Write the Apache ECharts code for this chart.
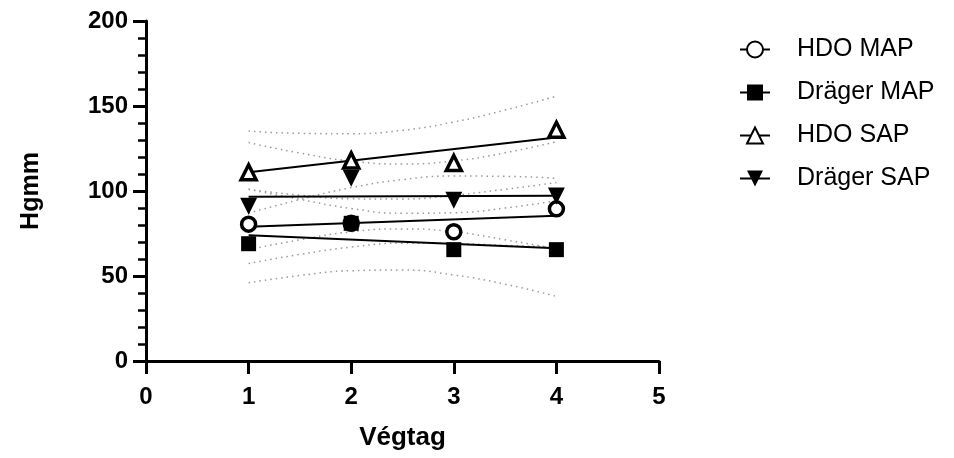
<!DOCTYPE html>
<html>
<head>
<meta charset="utf-8">
<script src="https://cdn.jsdelivr.net/npm/echarts@6/dist/echarts.min.js"></script>
<style>
  html, body { margin: 0; padding: 0; background: #fff; }
  #chart { width: 954px; height: 458px; }
</style>
</head>
<body>
<div id="chart"></div>
<script>
var seriesNames = ['HDO MAP', 'Dräger MAP', 'HDO SAP', 'Dräger SAP'];
var xVals = [1, 2, 3, 4];
var hdoMap = [80.5, 81, 76, 89.5];
var dragerMap = [69, 81, 65.5, 65.5];
var hdoSap = [111, 118, 116.5, 136];
var dragerSap = [91, 107.5, 94.5, 97];

// fitted lines (ends)
var fitX = [1, 4];
var hdoMapFit = [79, 85.5];
var dragerMapFit = [74, 66.3];
var hdoSapFit = [111, 131.5];
var dragerSapFit = [96.6, 97.2];

// 95% bands, read at these x
var bandX = [1, 1.5, 2, 2.5, 3, 3.5, 4];
var hdoMapUpper = [101, 97.5, 95.4, 95.3, 97.5, 101, 105];
var hdoMapLower = [57.3, 62.7, 67, 69.3, 69.1, 68, 67];
var dragerMapUpper = [101, 95.1, 89.7, 86.9, 87.2, 90, 94.3];
var dragerMapLower = [46, 50.3, 53.1, 53.5, 50.6, 45.2, 38];
var hdoSapUpper = [135.3, 133.9, 133.7, 135.7, 140.6, 147.6, 155.8];
var hdoSapLower = [87, 95, 102, 106.7, 108.8, 108.6, 107.5];
var dragerSapUpper = [128.5, 122.3, 117.6, 115.9, 117.7, 122.5, 129];
var dragerSapLower = [65.5, 71.3, 76, 77.7, 76, 71.3, 66];

var font = "'Liberation Sans', Arial, sans-serif";

function pairs(xs, ys) {
    return xs.map(function (x, i) { return [x, ys[i]]; });
}

var groups = [
    {name: seriesNames[0], pts: hdoMap, fit: hdoMapFit, up: hdoMapUpper, lo: hdoMapLower,
        symbol: 'circle', size: 14, rotate: 0, fill: '#fff', border: 3.5},
    {name: seriesNames[1], pts: dragerMap, fit: dragerMapFit, up: dragerMapUpper, lo: dragerMapLower,
        symbol: 'rect', size: 15, rotate: 0, fill: '#000', border: 0},
    {name: seriesNames[2], pts: hdoSap, fit: hdoSapFit, up: hdoSapUpper, lo: hdoSapLower,
        symbol: 'triangle', size: 15, rotate: 0, fill: '#fff', border: 3.5},
    {name: seriesNames[3], pts: dragerSap, fit: dragerSapFit, up: dragerSapUpper, lo: dragerSapLower,
        symbol: 'triangle', size: 17, rotate: 180, fill: '#000', border: 0}
];

var series = [];
groups.forEach(function (g) {
    var style = {color: g.fill, borderColor: '#000', borderWidth: g.border, opacity: 1};
    series.push({
        name: g.name,
        type: 'line',
        data: pairs(fitX, g.fit),
        symbol: g.symbol,
        symbolSize: g.size,
        symbolRotate: g.rotate,
        showSymbol: false,
        itemStyle: style,
        lineStyle: {color: '#000', width: 2},
        z: 3,
        silent: true
    });
    [g.up, g.lo].forEach(function (band) {
        series.push({
            type: 'line',
            data: pairs(bandX, band),
            smooth: true,
            showSymbol: false,
            lineStyle: {color: '#9a9a9a', width: 1.5, type: [1.5, 4]},
            z: 2,
            silent: true
        });
    });
    series.push({
        name: g.name,
        type: 'scatter',
        data: pairs(xVals, g.pts),
        symbol: g.symbol,
        symbolSize: g.size,
        symbolRotate: g.rotate,
        itemStyle: style,
        z: 5
    });
});

var myChart = echarts.init(document.getElementById('chart'));
var option = {
    animation: false,
    backgroundColor: '#fff',
    grid: {left: 146, right: 295, top: 21, bottom: 97},
    legend: {
        data: seriesNames,
        orient: 'vertical',
        left: 734,
        top: 32,
        itemWidth: 30,
        itemHeight: 20,
        itemGap: 18,
        textStyle: {fontFamily: font, fontSize: 25, color: '#000', padding: [0, 0, 0, 22]}
    },
    xAxis: {
        type: 'value',
        min: 0,
        max: 5,
        interval: 1,
        name: 'Végtag',
        nameLocation: 'middle',
        nameGap: 64,
        nameTextStyle: {fontFamily: font, fontSize: 26, fontWeight: 'bold', color: '#000'},
        axisLine: {lineStyle: {color: '#000', width: 3}},
        axisTick: {length: 13, lineStyle: {color: '#000', width: 3}},
        axisLabel: {fontFamily: font, fontSize: 24, fontWeight: 'bold', color: '#000', margin: 24},
        splitLine: {show: false}
    },
    yAxis: {
        type: 'value',
        min: 0,
        max: 200,
        interval: 50,
        name: 'Hgmm',
        nameLocation: 'middle',
        nameGap: 102,
        nameTextStyle: {fontFamily: font, fontSize: 25, fontWeight: 'bold', color: '#000'},
        axisLine: {show: true, lineStyle: {color: '#000', width: 3}},
        axisTick: {show: true, length: 13, lineStyle: {color: '#000', width: 3}},
        minorTick: {show: true, splitNumber: 5, length: 8, lineStyle: {color: '#000', width: 2.5}},
        axisLabel: {fontFamily: font, fontSize: 24, fontWeight: 'bold', color: '#000', margin: 18},
        splitLine: {show: false}
    },
    series: series
};
myChart.setOption(option);
</script>
</body>
</html>
